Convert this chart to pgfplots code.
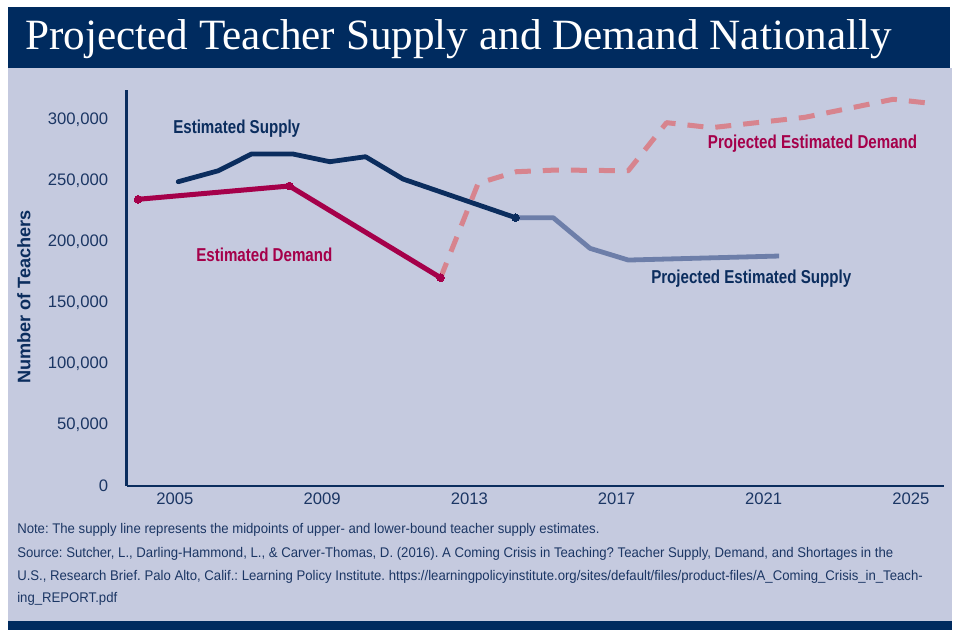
\documentclass[border=0pt]{standalone}
\usepackage{fontspec}
\setmainfont{Liberation Sans}
\newfontfamily\narrowfont{Liberation Sans}[FakeStretch=0.81]
\newfontfamily\notefont{Liberation Sans}[FakeStretch=0.94]
\newfontfamily\titlefont{Liberation Serif}
\usepackage{pgfplots}
\pgfplotsset{compat=1.18}
\definecolor{navy}{HTML}{002B5F}
\definecolor{bgc}{HTML}{C5CADF}
\definecolor{supc}{HTML}{0B2D5E}
\definecolor{demc}{HTML}{A5004A}
\definecolor{pdemc}{HTML}{D7848E}
\definecolor{psupc}{HTML}{6D7EA9}
\definecolor{txt}{HTML}{1B3664}
\frenchspacing
\begin{document}
\begin{tikzpicture}
\begin{scope}[x=0.75pt,y=0.75pt]
\fill[white] (0,0) rectangle (959,630);
\fill[bgc] (8,9) rectangle (952,562);
\fill[navy] (8,562) rectangle (950,623);
\fill[navy] (8,0) rectangle (952,9);
\node[anchor=base west, inner sep=0, text=white, font=\titlefont\fontsize{32.4}{36}\selectfont] at (25,580) {Projected Teacher Supply and Demand Nationally};
\end{scope}
\begin{axis}[
  at={(95.025pt,108pt)}, anchor=south west,
  scale only axis, width=613pt, height=297pt,
  xmin=2003.69, xmax=2025.9, ymin=0, ymax=324600,
  axis x line=bottom, axis y line=left,
  axis line style={supc, line width=1.9pt, -},
  xtick={2005,2009,2013,2017,2021,2025},
  ytick={0,50000,100000,150000,200000,250000,300000},
  major tick length=0pt,
  tick label style={font=\fontsize{12.5}{14}\selectfont, text=txt},
  /pgf/number format/assume math mode=true,
  xticklabel style={/pgf/number format/1000 sep={}, yshift=-1.5pt},
  yticklabel style={/pgf/number format/1000 sep={,}, /pgf/number format/fixed, xshift=-10.4pt},
  scaled y ticks=false,
  clip=false,
]
\addplot[supc, line width=3.6pt, line cap=round, line join=round] coordinates {
  (2005.09,249400) (2006.18,258400) (2007.08,272100) (2008.21,272100)
  (2009.21,265800) (2010.18,269900) (2011.20,251600) (2014.26,219900)
};
\addplot[psupc, line width=3.6pt, line join=round] coordinates {
  (2014.26,219900) (2015.28,219900) (2016.28,194800) (2017.32,185200) (2021.42,188500)
};
\addplot[supc, only marks, mark=*, mark size=2.8pt, mark options={fill=supc, draw=supc, line width=0pt}] coordinates {(2014.26,219900)};
\addplot[demc, line width=3.75pt, line join=round, mark=*, mark size=2.9pt, mark options={fill=demc, draw=demc, line width=0pt}] coordinates {
  (2004.00,235000) (2008.11,245900) (2012.22,170700)
};
\addplot[pdemc, line width=3.75pt, line join=round, dash pattern=on 12pt off 9pt] coordinates {
  (2012.22,170700) (2013.24,248100) (2014.28,257600) (2015.37,259000) (2017.32,258400)
  (2018.36,297800) (2019.58,293700) (2022.12,302200) (2024.52,317000) (2025.52,313700)
};
\end{axis}
\begin{scope}[x=0.75pt,y=0.75pt]
\node[anchor=base west, inner sep=0, text=supc, font=\narrowfont\bfseries\fontsize{14}{16}\selectfont] at (173,496) {Estimated Supply};
\node[anchor=base west, inner sep=0, text=demc, font=\narrowfont\bfseries\fontsize{14}{16}\selectfont] at (196,368.3) {Estimated Demand};
\node[anchor=base west, inner sep=0, text=demc, font=\narrowfont\bfseries\fontsize{14}{16}\selectfont] at (707.7,481) {Projected Estimated Demand};
\node[anchor=base west, inner sep=0, text=supc, font=\narrowfont\bfseries\fontsize{14}{16}\selectfont] at (651,346.7) {Projected Estimated Supply};
\node[rotate=90, inner sep=0, text=supc, font=\bfseries\fontsize{13.6}{15}\selectfont] at (24,333) {Number of Teachers};
\begin{scope}[every node/.style={anchor=base west, inner sep=0, text=txt, font=\notefont\fontsize{10.5}{12}\selectfont}]
\node at (17,96) {Note: The supply line represents the midpoints of upper- and lower-bound teacher supply estimates.};
\node at (17,72) {Source: Sutcher, L., Darling-Hammond, L., \& Carver-Thomas, D. (2016). A Coming Crisis in Teaching? Teacher Supply, Demand, and Shortages in the};
\node at (17,49.5) {U.S., Research Brief. Palo Alto, Calif.: Learning Policy Institute. https://learningpolicyinstitute.org/sites/default/files/product-files/A\_Coming\_Crisis\_in\_Teach-};
\node at (17,27) {ing\_REPORT.pdf};
\end{scope}
\end{scope}
\end{tikzpicture}
\end{document}
